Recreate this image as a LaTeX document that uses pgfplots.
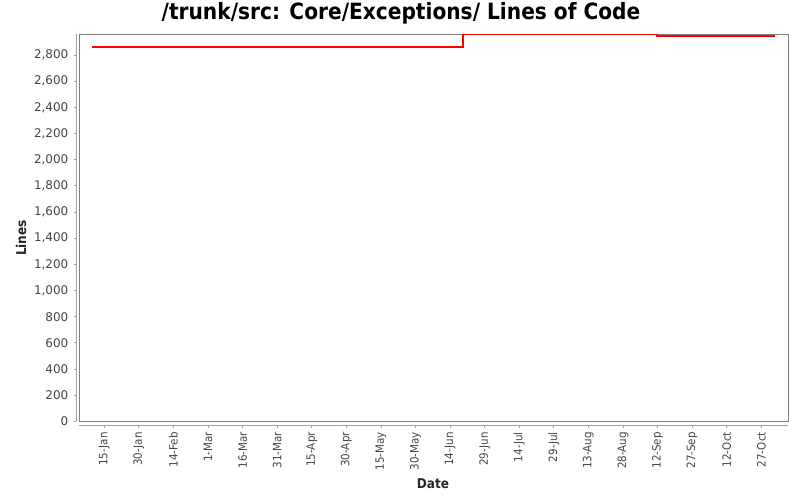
\documentclass[border=0pt]{standalone}
\usepackage{pgfplots}
\pgfplotsset{compat=1.18}
\usepackage{fontspec}
\setmainfont{DejaVu Sans}
\newfontfamily\condfont{DejaVu Sans Condensed}
\definecolor{ticklab}{HTML}{444444}
\definecolor{bordergray}{HTML}{808080}
\definecolor{axgray}{HTML}{A0A0A0}
\definecolor{linered}{HTML}{FF0000}
\begin{document}
\begin{tikzpicture}[x=1bp,y=1bp]
\path[use as bounding box] (0bp,0bp) rectangle (800bp,500bp);
\begin{axis}[
  at={(79bp,78.7bp)}, anchor=south west,
  scale only axis, width=709.3bp, height=386.8bp,
  xmin=4.03, xmax=311.7, ymin=0, ymax=2957,
  axis lines*=left,
  axis x line shift=3.7bp,
  axis y line shift=3bp,
  x axis line style={-, draw=axgray},
  y axis line style={-, draw=axgray},
  tick align=outside,
  major tick length=2.5bp,
  tick style={draw=axgray, line width=0.8bp},
  xtick={15,30,45,60,75,90,105,120,135,150,165,180,195,210,225,240,255,270,285,300},
  xticklabels={15-Jan,30-Jan,14-Feb,1-Mar,16-Mar,31-Mar,15-Apr,30-Apr,15-May,30-May,14-Jun,29-Jun,14-Jul,29-Jul,13-Aug,28-Aug,12-Sep,27-Sep,12-Oct,27-Oct},
  ytick={0,200,...,2800},
  /pgf/number format/assume math mode=true,
  /pgf/number format/1000 sep={,},
  x tick label style={rotate=90, anchor=east, font=\condfont\fontsize{11.5}{12}\selectfont, text=ticklab, inner sep=0bp, xshift=-4.5bp},
  y tick label style={font=\fontsize{12}{13}\selectfont, text=ticklab, inner sep=0bp, xshift=-5bp},
  clip=false,
]
\draw[bordergray, line width=0.9bp] (rel axis cs:0,0) rectangle (rel axis cs:1,1);
\addplot[color=linered, line width=1.7bp, mark=none] coordinates {
  (9.7,2859) (170.7,2859) (170.7,2956) (254.6,2956) (254.6,2947) (305.9,2947)
};
\end{axis}
\node[font=\condfont\bfseries\fontsize{22.5}{24}\selectfont] at (401bp,487bp) {/trunk/src: Core/Exceptions/ Lines of Code};
\node[font=\condfont\bfseries\fontsize{13.5}{15}\selectfont, text=black!85, rotate=90] at (21bp,262bp) {Lines};
\node[font=\condfont\bfseries\fontsize{13.5}{15}\selectfont, text=black!85] at (433bp,16bp) {Date};
\end{tikzpicture}
\end{document}
